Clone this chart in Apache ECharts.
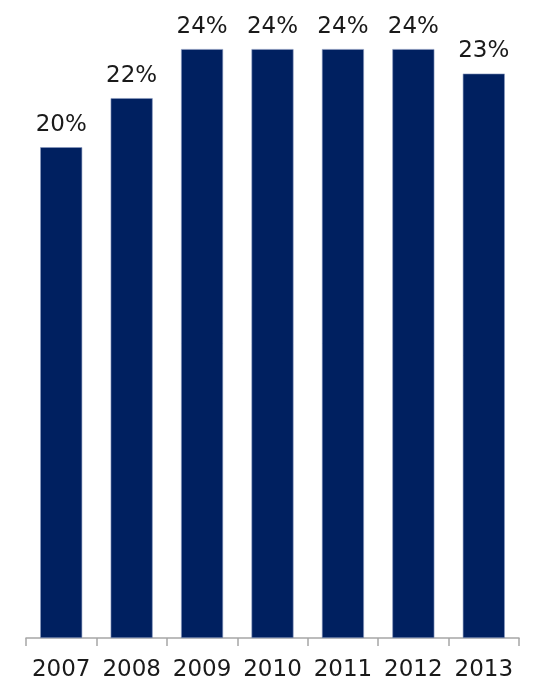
<!DOCTYPE html>
<html>
<head>
<meta charset="utf-8">
<script src="https://cdn.jsdelivr.net/npm/echarts@6/dist/echarts.min.js"></script>
<style>html,body{margin:0;padding:0;background:#fff}#c{width:547px;height:685px}</style>
</head>
<body>
<div id="c"></div>
<script>
const categories = ['2007','2008','2009','2010','2011','2012','2013'];
const values = [20, 22, 24, 24, 24, 24, 23];

const chart = echarts.init(document.getElementById('c'), null, {renderer: 'canvas'});
chart.setOption({
  animation: false,
  grid: {left: 26, right: 28, top: 0, bottom: 47, containLabel: false},
  xAxis: {
    type: 'category',
    data: categories,
    axisLine: {show: true, lineStyle: {color: '#a6a6a6', width: 1.5}},
    axisTick: {show: true, length: 8, lineStyle: {color: '#a6a6a6', width: 1.5}},
    axisLabel: {color: '#1a1a1a', fontFamily: 'DejaVu Sans', fontSize: 23, margin: 21, interval: 0, hideOverlap: false}
  },
  yAxis: {
    type: 'value', min: 0, max: 26,
    show: false,
    splitLine: {show: false}
  },
  series: [{
    type: 'bar',
    data: values,
    barWidth: 42,
    itemStyle: {color: '#002060', borderColor: '#8a9bc0', borderWidth: 0.6},
    label: {
      show: true, position: 'top', distance: 11,
      formatter: p => p.value + '%',
      color: '#1a1a1a', fontFamily: 'DejaVu Sans', fontSize: 23
    }
  }]
});
</script>
</body>
</html>
